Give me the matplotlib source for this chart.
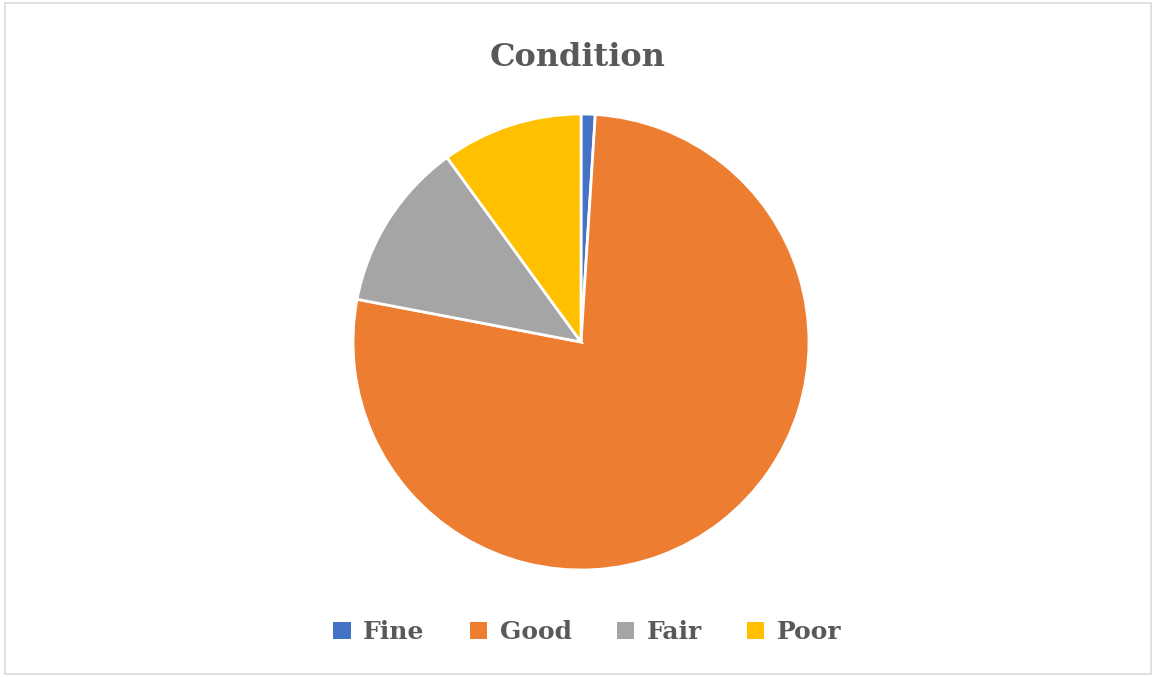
import matplotlib.pyplot as plt
from matplotlib.patches import Rectangle

labels = ['Fine', 'Good', 'Fair', 'Poor']
counts = [1, 77, 12, 10]
colors = ['#4472C4', '#ED7D31', '#A5A5A5', '#FFC000']
text_color = '#595959'

fig = plt.figure(figsize=(11.56, 6.77), dpi=100)

# light frame round the chart area
fig.patches.append(Rectangle((0.004, 0.004), 0.992, 0.992, transform=fig.transFigure,
                             fill=False, edgecolor='#D9D9D9', linewidth=1.2))

ax = fig.add_axes([(581 - 228) / 1156, (677 - 570) / 677, 456 / 1156, 456 / 677])
wedges, _ = ax.pie(counts, colors=colors, startangle=90, counterclock=False,
                   wedgeprops=dict(edgecolor='white', linewidth=2))
ax.set_xlim(-1, 1)
ax.set_ylim(-1, 1)
ax.set_aspect('equal')

fig.text(0.5, 1 - 57 / 677, 'Condition', ha='center', va='center', fontsize=23,
         fontweight='bold', family='DejaVu Serif', color=text_color)

leg = fig.legend(wedges, labels, loc='center', bbox_to_anchor=(0.508, 1 - 632 / 677),
                 ncol=4, frameon=False, handlelength=0.7, handleheight=0.7,
                 handletextpad=0.5, columnspacing=1.8,
                 prop=dict(family='DejaVu Serif', size=18, weight='bold'))
for t in leg.get_texts():
    t.set_color(text_color)
for h in leg.legend_handles:
    h.set_edgecolor('none')

fig.savefig('out.png', dpi=100)
